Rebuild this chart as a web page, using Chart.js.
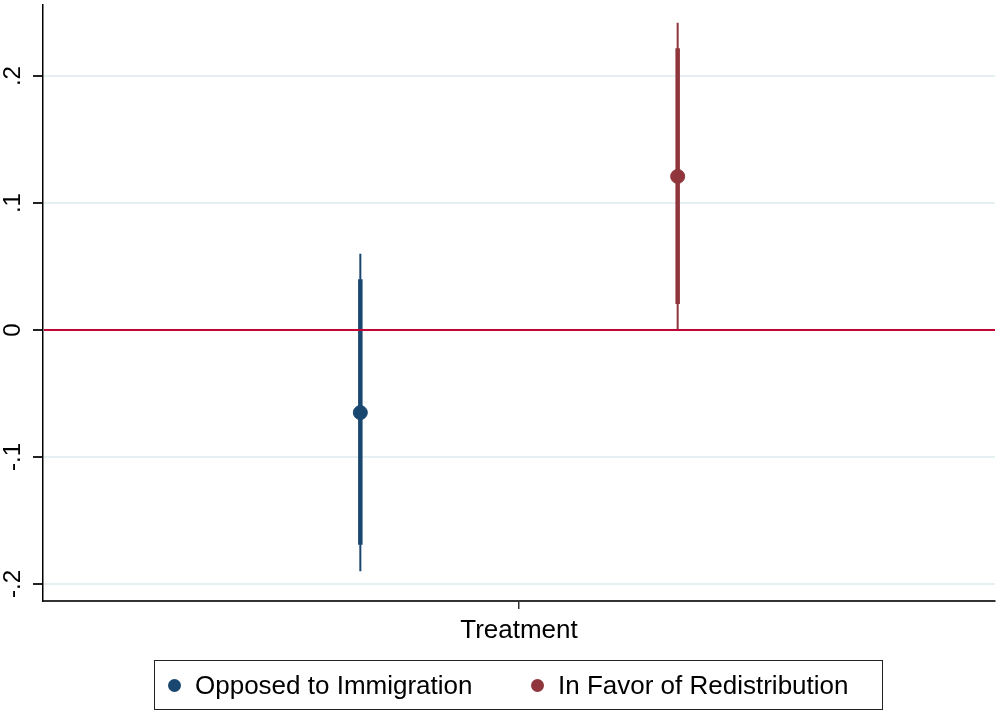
<!DOCTYPE html>
<html>
<head>
<meta charset="utf-8">
<script src="https://cdn.jsdelivr.net/npm/chart.js@4"></script>
<style>
  body { margin: 0; background: #fff; overflow: hidden; }
  #wrap { position: relative; width: 997px; height: 711px; }
  #legend {
    position: absolute; left: 154px; top: 660px; width: 729px; height: 50px;
    border: 1.5px solid #222; box-sizing: border-box;
    font-family: "Liberation Sans", Arial, sans-serif; font-size: 26px; color: #000;
  }
  .item { position: absolute; top: 0; height: 48px; display: flex; align-items: center; }
  .dot { width: 13px; height: 13px; border-radius: 50%; margin-right: 14px; }
</style>
</head>
<body>
<div id="wrap">
  <canvas id="grafico" width="997" height="711"></canvas>
  <div id="legend"></div>
</div>
<script>
// ----- Datos -----
const grupos = ["Opposed to Immigration", "In Favor of Redistribution"];
const posX = [-0.5, 0.5];
const estimaciones = [-0.065, 0.121];
const ic95Bajo = [-0.190, 0.000];
const ic95Alto = [0.060, 0.242];
const ic90Bajo = [-0.169, 0.0205];
const ic90Alto = [0.040, 0.222];
const colores = ["#1a476f", "#90353b"];
const yTicks = [-0.2, -0.1, 0, 0.1, 0.2];
const yEtiquetas = ["-.2", "-.1", "0", ".1", ".2"];
const xTicks = [0];
const xEtiquetas = ["Treatment"];
const lineaRef = 0;

const fuente = "'Liberation Sans', Arial, sans-serif";

// puntos primero (se dibujan encima), luego intervalos
const datasets = [];
grupos.forEach((g, i) => {
  datasets.push({
    label: g,
    data: [{ x: posX[i], y: estimaciones[i] }],
    backgroundColor: colores[i],
    borderColor: colores[i],
    pointRadius: 7,
    pointHoverRadius: 7,
    showLine: false
  });
});
grupos.forEach((g, i) => {
  datasets.push({
    label: g + " 90",
    data: [{ x: posX[i], y: ic90Bajo[i] }, { x: posX[i], y: ic90Alto[i] }],
    borderColor: colores[i],
    borderWidth: 4.5,
    pointRadius: 0,
    showLine: true
  });
  datasets.push({
    label: g + " 95",
    data: [{ x: posX[i], y: ic95Bajo[i] }, { x: posX[i], y: ic95Alto[i] }],
    borderColor: colores[i],
    borderWidth: 2,
    pointRadius: 0,
    showLine: true
  });
});

// etiquetas del eje Y giradas + linea de referencia
const extras = {
  id: "extras",
  afterDatasetsDraw(chart) {
    const { ctx, chartArea, scales } = chart;
    const yr = scales.y.getPixelForValue(lineaRef);
    ctx.save();
    ctx.strokeStyle = "#c10534";
    ctx.lineWidth = 2;
    ctx.beginPath();
    ctx.moveTo(chartArea.left + 1, yr);
    ctx.lineTo(chartArea.right, yr);
    ctx.stroke();
    ctx.restore();
  },
  afterDraw(chart) {
    const { ctx, scales } = chart;
    ctx.save();
    ctx.fillStyle = "#000";
    ctx.font = "24px " + fuente;
    ctx.textAlign = "center";
    ctx.textBaseline = "middle";
    yTicks.forEach((v, i) => {
      const py = scales.y.getPixelForValue(v);
      ctx.save();
      ctx.translate(13, py);
      ctx.rotate(-Math.PI / 2);
      ctx.fillText(yEtiquetas[i], 0, 0);
      ctx.restore();
    });
    ctx.restore();
  }
};

new Chart(document.getElementById("grafico"), {
  type: "scatter",
  data: { datasets },
  options: {
    responsive: false,
    animation: false,
    devicePixelRatio: 1,
    layout: { autoPadding: false, padding: { top: 5, right: 2, bottom: 70, left: 0 } },
    plugins: {
      legend: { display: false },
      tooltip: { enabled: false }
    },
    scales: {
      x: {
        type: "linear",
        min: -1.5,
        max: 1.5,
        afterBuildTicks: s => { s.ticks = xTicks.map(v => ({ value: v })); },
        afterFit: s => { s.height = 40; s.paddingLeft = 0; s.paddingRight = 0; },
        border: { color: "#333", width: 2 },
        grid: { drawOnChartArea: false, drawTicks: true, tickLength: 8, color: "#333", tickColor: "#333", lineWidth: 1.5 },
        ticks: {
          padding: 6,
          color: "#000",
          font: { size: 26, family: fuente },
          callback: (v, i) => xEtiquetas[i]
        }
      },
      y: {
        type: "linear",
        min: -0.2134,
        max: 0.256,
        afterBuildTicks: s => { s.ticks = yTicks.map(v => ({ value: v })); },
        afterFit: s => { s.width = 43; s.paddingTop = 0; s.paddingBottom = 0; },
        border: { color: "#000", width: 1.5 },
        grid: {
          drawTicks: true,
          tickLength: 10,
          color: "#e6eff1",
          tickColor: "#222",
          lineWidth: 2
        },
        ticks: { display: false }
      }
    }
  },
  plugins: [extras]
});

// ----- Leyenda -----
const leyenda = document.getElementById("legend");
const posLeyenda = [13, 376];
grupos.forEach((g, i) => {
  const item = document.createElement("div");
  item.className = "item";
  item.style.left = posLeyenda[i] + "px";
  item.innerHTML = `<span class="dot" style="background:${colores[i]}"></span><span>${g}</span>`;
  leyenda.appendChild(item);
});
</script>
</body>
</html>
